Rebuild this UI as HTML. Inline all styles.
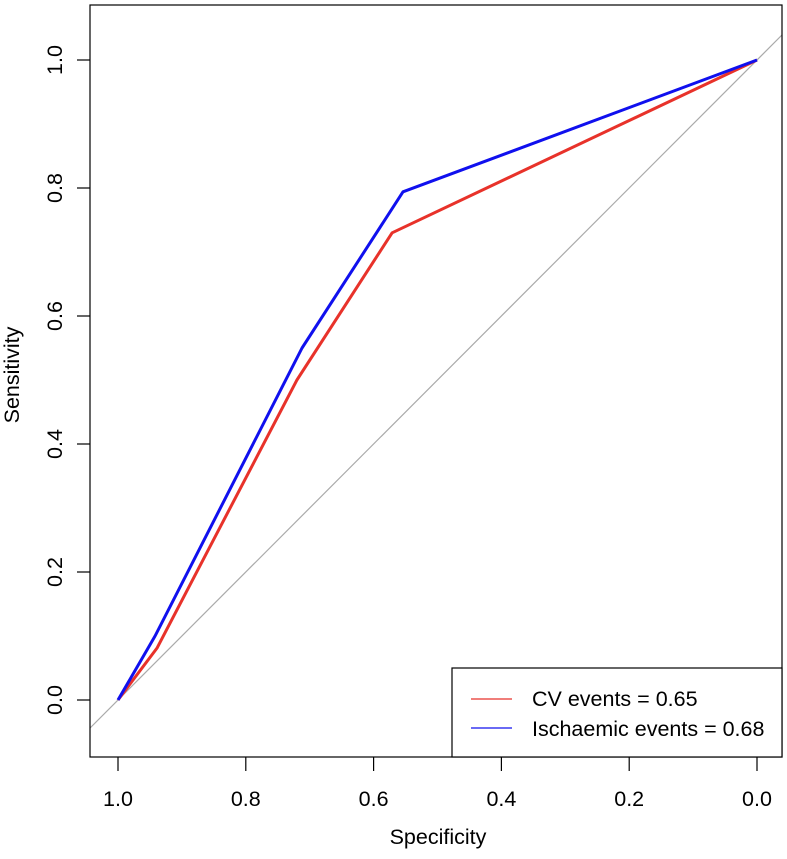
<!DOCTYPE html>
<html><head><meta charset="utf-8"><style>
html,body{margin:0;padding:0;background:#fff;}
svg text{font-family:"Liberation Sans",Arial,sans-serif;font-size:21.5px;fill:#000;}
</style></head><body>
<svg width="787" height="854" xmlns="http://www.w3.org/2000/svg">
<defs><clipPath id="clip"><rect x="90" y="5" width="692" height="752"/></clipPath></defs>
<g id="plot" clip-path="url(#clip)"></g>
<rect x="90" y="5" width="692" height="752" fill="none" stroke="#000" stroke-width="1.2"/>
<g id="axes"></g>
<text x="438" y="844" text-anchor="middle">Specificity</text>
<text transform="translate(19,375) rotate(-90)" text-anchor="middle">Sensitivity</text>
<g>
<rect x="452" y="668" width="330" height="89" fill="#fff" stroke="#000" stroke-width="1.2"/>
<line x1="471" y1="699" x2="512" y2="699" stroke="#e8322a" stroke-width="1.3"/>
<text x="532" y="706">CV events = 0.65</text>
<line x1="471" y1="728" x2="512" y2="728" stroke="#1010ee" stroke-width="1.3"/>
<text x="532" y="736">Ischaemic events = 0.68</text>
</g>
</svg>
<script>
const cvSpec=[1,0.939,0.72,0.571,0];
const cvSens=[0,0.081,0.50,0.73,1];
const iscSpec=[1,0.942,0.712,0.554,0];
const iscSens=[0,0.10,0.55,0.794,1];
const xTicks=[1.0,0.8,0.6,0.4,0.2,0.0];
const yTicks=[0.0,0.2,0.4,0.6,0.8,1.0];
const NS="http://www.w3.org/2000/svg";
const sx=v=>757-v*639;
const sy=v=>700-v*640;
const plot=document.getElementById('plot'),axes=document.getElementById('axes');
function mk(t,a,p){const e=document.createElementNS(NS,t);for(const k in a)e.setAttribute(k,a[k]);p.appendChild(e);return e;}
const d=mk('line',{x1:sx(1.2),y1:sy(-0.2),x2:sx(-0.2),y2:sy(1.2),stroke:'#aaa','stroke-width':1.2},plot);


function series(xs,ys,col,name){
 const pts=xs.map((v,i)=>sx(v)+','+sy(ys[i])).join(' ');
 const e=mk('polyline',{points:pts,fill:'none',stroke:col,'stroke-width':3,'stroke-linejoin':'round'},plot);
 
 
}
series(cvSpec,cvSens,'#e8322a','cv-events-curve');
series(iscSpec,iscSens,'#1010ee','ischaemic-events-curve');
xTicks.forEach(v=>{
 mk('line',{x1:sx(v),y1:757,x2:sx(v),y2:771,stroke:'#000','stroke-width':1.2},axes);
 const t=mk('text',{x:sx(v),y:806,'text-anchor':'middle'},axes);t.textContent=v.toFixed(1);
 
 
});
yTicks.forEach(v=>{
 mk('line',{x1:77,y1:sy(v),x2:90,y2:sy(v),stroke:'#000','stroke-width':1.2},axes);
 const t=mk('text',{transform:`translate(62,${sy(v)}) rotate(-90)`,'text-anchor':'middle'},axes);t.textContent=v.toFixed(1);
 
 
});
</script>
</body></html>
